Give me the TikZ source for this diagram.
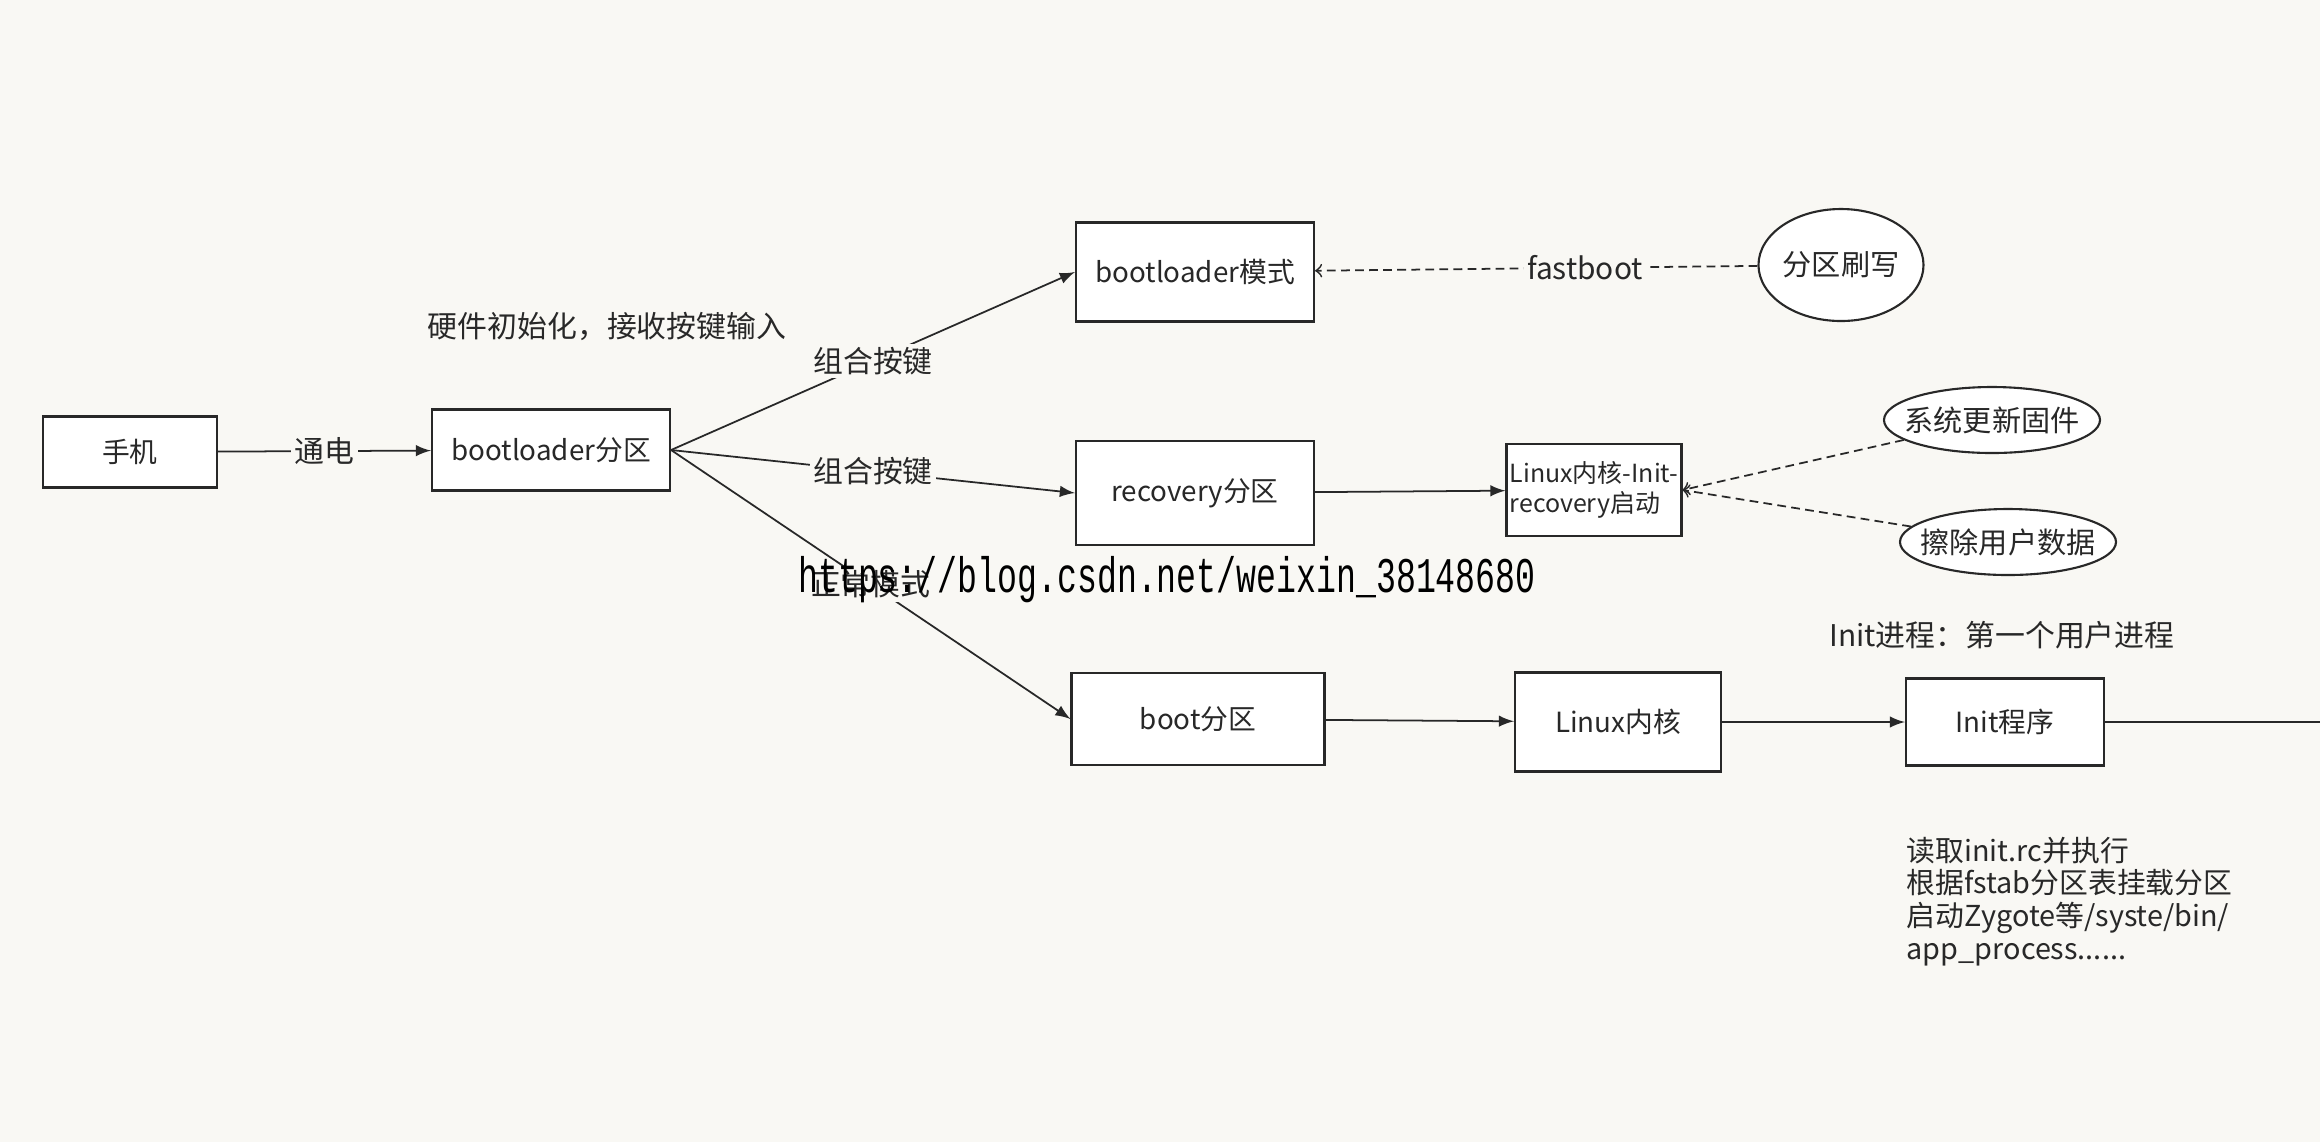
\documentclass[tikz,border=0pt]{standalone}
\usepackage{fontspec}
\setmainfont{Noto Sans CJK SC}
\newfontfamily\wmfont{Liberation Mono}
\usetikzlibrary{shapes,arrows,positioning,calc}
\definecolor{paper}{RGB}{249,248,244}
\definecolor{ink}{RGB}{40,40,40}

\begin{document}
\begin{tikzpicture}[
  box/.style={draw=ink, fill=white, rectangle, line width=0.6pt, font=\fontsize{7.9}{9.5}\selectfont, text=ink},
  oval/.style={draw=ink, fill=white, ellipse, line width=0.6pt, inner xsep=-0.2cm, inner ysep=0pt, font=\fontsize{8.3}{10}\selectfont, text=ink},
  link/.style={draw=ink, line width=0.5pt, -latex},
  dlink/.style={draw=ink, line width=0.5pt, dash pattern=on 2.5pt off 1.5pt, ->},
  lab/.style={fill=paper, inner sep=1pt, font=\fontsize{8.5}{10}\selectfont, text=ink},
  note/.style={font=\fontsize{8.5}{10}\selectfont, text=ink}
]
\fill[paper] (0,0) rectangle (23.2,-11.42);
\useasboundingbox (0,0) rectangle (23.2,-11.42);

% 手机 / bootloader
\node[box, minimum width=1.74cm, minimum height=0.71cm] (phone) at (1.30,-4.52) {手机};
\node[box, minimum width=2.38cm, minimum height=0.81cm] (blpart) at (5.51,-4.50) {bootloader分区};
\node[note] (hwinit) at (6.07,-3.26) {硬件初始化，接收按键输入};

% 三种模式
\node[box, minimum width=2.38cm, minimum height=0.99cm] (blmode) at (11.95,-2.72) {bootloader模式};
\node[box, minimum width=2.38cm, minimum height=1.04cm] (recpart) at (11.95,-4.93) {recovery分区};
\node[box, minimum width=2.53cm, minimum height=0.92cm] (bootpart) at (11.98,-7.19) {boot分区};

% 分区刷写
\node[oval, inner xsep=0pt, minimum width=1.62cm, minimum height=1.12cm] (flash) at (18.41,-2.65) {分区刷写};

% recovery
\node[box, minimum width=1.75cm, minimum height=0.92cm, inner sep=0.5pt, align=left,
  font=\fontsize{7.1}{8.6}\selectfont] (recboot) at (15.94,-4.90) {Linux内核-Init-\\recovery启动};
\node[oval, minimum width=2.16cm, minimum height=0.66cm] (update) at (19.92,-4.20) {系统更新固件};
\node[oval, minimum width=2.16cm, minimum height=0.66cm] (wipe) at (20.08,-5.42) {擦除用户数据};

% 正常启动
\node[box, minimum width=2.06cm, minimum height=0.99cm] (kernel) at (16.18,-7.22) {Linux内核};
\node[box, minimum width=1.98cm, minimum height=0.87cm] (init) at (20.05,-7.22) {Init程序};
\coordinate (out) at (23.2,-7.22);
\node[note] (initnote) at (20.02,-6.35) {Init进程：第一个用户进程};
\node[note, anchor=north west, align=left, inner sep=0pt,
  font=\fontsize{8.2}{9.3}\selectfont] (initjob) at (19.06,-8.36)
  {读取init.rc并执行\\根据fstab分区表挂载分区\\启动Zygote等/syste/bin/\\app\_process......};

% 连接
\draw[link] (phone) -- node[lab] {通电} (blpart);
\draw[link] (blpart.east) -- node[lab] {组合按键} (blmode.west);
\draw[link] (blpart.east) -- node[lab] {组合按键} (recpart.west);
\draw[link] (blpart.east) -- node[lab] (normal) {正常模式} (bootpart.west);
\draw[dlink] (flash) -- node[lab, pos=0.39] {fastboot} (blmode);
\draw[link] (recpart) -- (recboot);
\draw[dlink] (update) -- (recboot.east);
\draw[dlink] (wipe) -- (recboot.east);
\draw[link] (bootpart) -- (kernel);
\draw[link] (kernel) -- (init);
\draw[draw=ink, line width=0.5pt] (init) -- (out);

% 水印
\node[inner sep=0pt, font=\wmfont\fontsize{9.45}{10}\selectfont] (mark) at (11.67,-5.80)
  {\scalebox{1}[1.5]{https://blog.csdn.net/weixin\_38148680}};
\end{tikzpicture}
\end{document}
